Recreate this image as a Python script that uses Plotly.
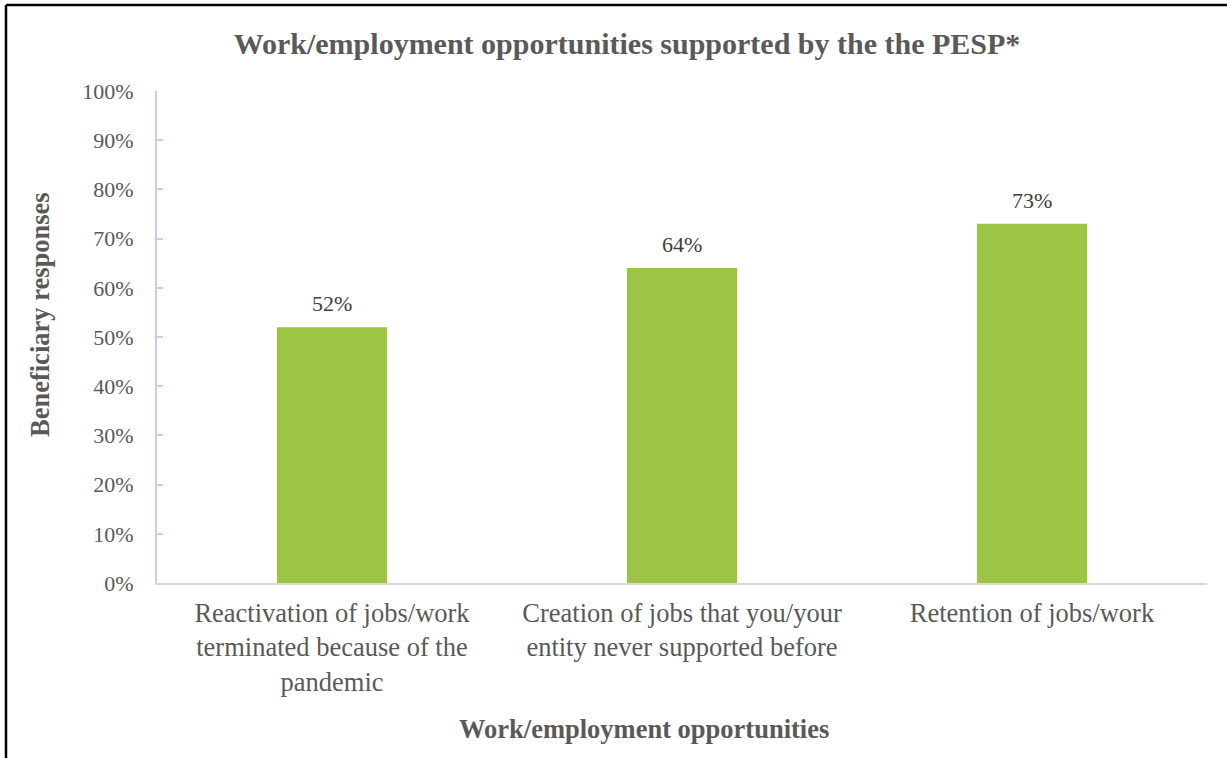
import plotly.graph_objects as go

categories = [
    "Reactivation of jobs/work<br>terminated because of the<br>pandemic",
    "Creation of jobs that you/your<br>entity never supported before",
    "Retention of jobs/work",
]
values = [0.52, 0.64, 0.73]
labels = ["52%", "64%", "73%"]

W, H = 1227, 758
ML, MR, MT, MB = 157, 20, 91, 175
FONT = "Liberation Serif, Times New Roman, serif"
GREY = "#595959"

fig = go.Figure(go.Bar(
    x=categories, y=values,
    marker=dict(color="#9DC544", line=dict(width=0)),
    width=0.315, cliponaxis=False, hoverinfo="x+y",
))

for c, v, t in zip(categories, values, labels):
    fig.add_annotation(x=c, y=v, text=t, showarrow=False, yanchor="bottom",
                       yshift=9, font=dict(family=FONT, size=22, color="#404040"))

pw = W - ML - MR
ph = H - MT - MB
def px(x):
    return (x - ML) / pw
def py(y):
    return (H - MB - y) / ph

# axis titles placed as in the reference (offset from plot centre)
fig.add_annotation(xref="paper", yref="paper", x=px(644), y=py(729),
                   xanchor="center", yanchor="middle", showarrow=False,
                   text="<b>Work/employment opportunities</b>",
                   font=dict(family=FONT, size=26.5, color=GREY))
fig.add_annotation(xref="paper", yref="paper", x=px(40), y=py(315),
                   xanchor="center", yanchor="middle", showarrow=False,
                   textangle=-90, text="<b>Beneficiary responses</b>",
                   font=dict(family=FONT, size=26.5, color=GREY))

fig.update_layout(
    width=W, height=H,
    margin=dict(l=ML, r=MR, t=MT, b=MB),
    paper_bgcolor="white", plot_bgcolor="white",
    showlegend=False,
    font=dict(family=FONT, color=GREY, size=22),
    title=dict(text="<b>Work/employment opportunities supported by the the PESP*</b>",
               x=627 / W, xanchor="center", y=1 - 43 / H, yanchor="middle",
               font=dict(family=FONT, size=30, color=GREY)),
    xaxis=dict(showline=True, linecolor="#D9D9D9", linewidth=2,
               tickfont=dict(family=FONT, size=26.5, color=GREY),
               ticks="", showgrid=False, ticklabelstandoff=5),
    yaxis=dict(range=[0, 1], dtick=0.1, tickformat=".0%",
               showline=True, linecolor="#D9C3EA", linewidth=2,
               ticks="inside", ticklen=6, tickcolor="#D9C3EA", tickwidth=2,
               showgrid=False, zeroline=False, ticklabelstandoff=17,
               tickfont=dict(family=FONT, size=22, color=GREY)),
    shapes=[
        dict(type="line", xref="paper", yref="paper",
             x0=px(6), x1=px(6), y0=py(5), y1=py(H + 10),
             line=dict(color="black", width=2.5)),
        dict(type="line", xref="paper", yref="paper",
             x0=px(6), x1=px(W + 10), y0=py(5), y1=py(5),
             line=dict(color="black", width=2.5)),
    ],
)

fig.write_html("out.html")
